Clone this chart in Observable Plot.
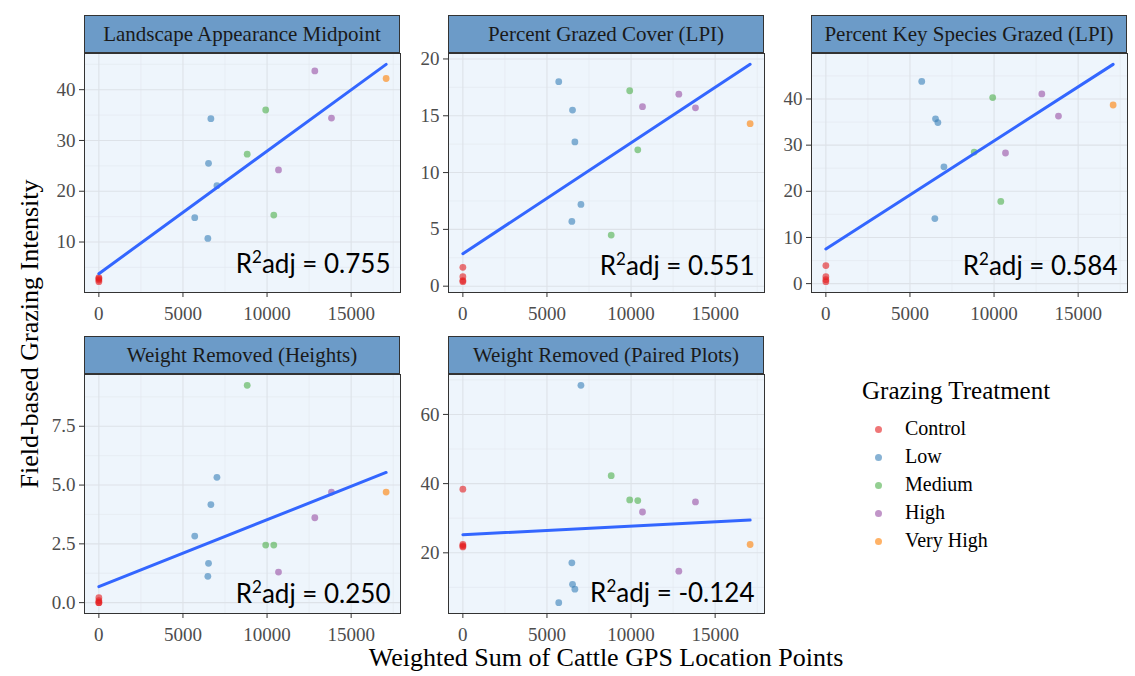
<!DOCTYPE html>
<html>
<head>
<meta charset="utf-8">
<script src="https://cdn.jsdelivr.net/npm/d3@7"></script>
<script src="https://cdn.jsdelivr.net/npm/@observablehq/plot@0.6"></script>
<style>
  body { margin: 0; background: #fff; }
  #fig { position: relative; width: 1135px; height: 676px; overflow: hidden;
         font-family: "Liberation Serif", "Times New Roman", serif; color: #000; }
  .strip { position: absolute; box-sizing: border-box; background: #6C9BC8; border: 1px solid #333;
           display: flex; align-items: center; justify-content: center; font-size: 21px; color: #1a1a1a;
           white-space: nowrap; }
  .panel { position: absolute; }
  .abs { position: absolute; line-height: 1; white-space: nowrap; }
  .key { position: absolute; width: 7px; height: 7px; border-radius: 50%; opacity: 0.6; }
</style>
</head>
<body>
<div id="fig"></div>
<script>
// Grazing treatments and their point colours
const treatments = ["Control", "Low", "Medium", "High", "Very High"];
const treatmentColors = ["#E41A1C", "#377EB8", "#4DAF4A", "#984EA3", "#FF7F00"];

// One entry per pasture: 4 control, 5 low, 3 medium, 3 high, 1 very high
const siteTreatment = ["Control", "Control", "Control", "Control",
  "Low", "Low", "Low", "Low", "Low",
  "Medium", "Medium", "Medium",
  "High", "High", "High",
  "Very High"];
const gpsPoints = [0, 0, 0, 0, 5700, 6480, 6520, 6660, 7020, 8820, 9920, 10400, 10680, 12840, 13830, 17080];

// Field-based grazing intensity metrics, same site order
const landscapeMidpoint = [2.2, 2.5, 2.8, 3.0, 14.8, 10.7, 25.5, 34.3, 21.1, 27.3, 36.0, 15.3, 24.2, 43.7, 34.4, 42.2];
const grazedCover      = [1.66, 0.84, 0.49, 0.40, 18.0, 5.7, 15.5, 12.7, 7.2, 4.5, 17.2, 12.0, 15.8, 16.9, 15.7, 14.3];
const keySpeciesGrazed = [3.9, 1.5, 0.86, 0.43, 43.8, 14.1, 35.7, 34.9, 25.3, 28.5, 40.3, 17.8, 28.3, 41.1, 36.3, 38.7];
const weightHeights    = [0.21, 0.08, 0.0, 0.0, 2.83, 1.12, 1.67, 4.17, 5.33, 9.24, 2.45, 2.45, 1.30, 3.61, 4.70, 4.70];
const weightPaired     = [38.4, 22.4, 21.7, 22.0, 5.6, 17.1, 10.9, 9.5, 68.4, 42.3, 35.3, 35.1, 31.8, 14.7, 34.7, 22.4];

const metricTitles = ["Landscape Appearance Midpoint", "Percent Grazed Cover (LPI)", "Percent Key Species Grazed (LPI)",
  "Weight Removed (Heights)", "Weight Removed (Paired Plots)"];
const metricValues = [landscapeMidpoint, grazedCover, keySpeciesGrazed, weightHeights, weightPaired];
const r2adj = ["0.755", "0.551", "0.584", "0.250", "-0.124"];

// Axis tick labels
const xTicks = [0, 5000, 10000, 15000];
const yTicks = [[10, 20, 30, 40], [0, 5, 10, 15, 20], [0, 10, 20, 30, 40], [0, 2.5, 5, 7.5], [20, 40, 60]];
const yTickFormats = [d3.format("d"), d3.format("d"), d3.format("d"), d3.format(".1f"), d3.format("d")];

// ---- layout ----
const fig = document.getElementById("fig");
const colLeft = [84, 448, 811];
const rowTop = [15, 336];
const panelW = 316, panelH = 239, stripH = 38;
const mL = 50, mR = 4, mT = 1, mB = 34;
const labelLift = [20, 18, 18, 11, 12];

// least-squares fit, used to size the y range so the fitted line stays inside
function fit(xs, ys) {
  const mx = d3.mean(xs), my = d3.mean(ys);
  let sxy = 0, sxx = 0;
  xs.forEach((x, i) => { sxy += (x - mx) * (ys[i] - my); sxx += (x - mx) ** 2; });
  const b = sxy / sxx;
  return x => my + b * (x - mx);
}
function expand([a, b]) { const p = (b - a) * 0.05; return [a - p, b + p]; }
function minorTicks(ticks, domain) {
  const s = ticks[1] - ticks[0];
  const out = [];
  for (let t = ticks[0] - s / 2; t <= domain[1]; t += s) if (t >= domain[0]) out.push(t);
  return out;
}

const xExt = d3.extent(gpsPoints);
const xDomain = expand(xExt);

metricValues.forEach((vals, k) => {
  const col = k % 3, row = Math.floor(k / 3);
  const data = vals.map((v, i) => ({gps: gpsPoints[i], value: v, treatment: siteTreatment[i]}));
  const f = fit(gpsPoints, vals);
  const yDomain = expand(d3.extent([...vals, f(xExt[0]), f(xExt[1])]));

  const strip = document.createElement("div");
  strip.className = "strip";
  Object.assign(strip.style, {left: colLeft[col] + "px", top: rowTop[row] + "px", width: panelW + "px", height: stripH + "px"});
  strip.textContent = metricTitles[k];
  fig.appendChild(strip);

  const chart = Plot.plot({
    width: panelW + mL + mR,
    height: panelH + mT + mB,
    marginLeft: mL, marginRight: mR, marginTop: mT, marginBottom: mB,
    style: {background: "transparent", fontFamily: "'Liberation Serif', 'Times New Roman', serif", fontSize: "19px", overflow: "visible"},
    x: {domain: xDomain, axis: null},
    y: {domain: yDomain, axis: null},
    color: {domain: treatments, range: treatmentColors},
    marks: [
      Plot.frame({fill: "#EEF5FC"}),
      Plot.gridX(minorTicks(xTicks, xDomain), {stroke: "#E3E8EE", strokeOpacity: 1, strokeWidth: 0.6}),
      Plot.gridY(minorTicks(yTicks[k], yDomain), {stroke: "#E3E8EE", strokeOpacity: 1, strokeWidth: 0.6}),
      Plot.gridX(xTicks, {stroke: "#DDE2E8", strokeOpacity: 1, strokeWidth: 1.1}),
      Plot.gridY(yTicks[k], {stroke: "#DDE2E8", strokeOpacity: 1, strokeWidth: 1.1}),
      Plot.dot(data, {x: "gps", y: "value", fill: "treatment", r: 3.4, fillOpacity: 0.6}),
      Plot.linearRegressionY(data, {x: "gps", y: "value", stroke: "#3366FF", strokeWidth: 3, ci: 0}),
      Plot.text([`R2adj = ${r2adj[k]}`], {frameAnchor: "bottom-right", textAnchor: "end", lineAnchor: "middle",
        dx: -10, dy: -(labelLift[k] + 8), fontSize: 26, fontFamily: "Lato, 'Open Sans', sans-serif", fill: "#000",
        className: "r2label"}),
      Plot.frame({stroke: "#333", strokeWidth: 1}),
      Plot.axisX(xTicks, {tickSize: 5, tickPadding: 9, stroke: "#333", fill: "#4d4d4d", tickFormat: d3.format("d"), label: null}),
      Plot.axisY(yTicks[k], {tickSize: 5, tickPadding: 4, stroke: "#333", fill: "#4d4d4d", tickFormat: yTickFormats[k], label: null})
    ]
  });

  // typeset the "2" of R2adj as a superscript
  chart.querySelectorAll(".r2label text").forEach(t => {
    const rest = t.textContent.slice(2);
    t.textContent = "";
    const ns = "http://www.w3.org/2000/svg";
    const a = document.createElementNS(ns, "tspan"); a.textContent = "R";
    const sup = document.createElementNS(ns, "tspan"); sup.textContent = "2";
    sup.setAttribute("font-size", "17"); sup.setAttribute("dy", "-10");
    const b = document.createElementNS(ns, "tspan"); b.textContent = rest; b.setAttribute("dy", "10");
    t.append(a, sup, b);
  });

  chart.classList.add("panel");
  chart.style.left = (colLeft[col] - mL) + "px";
  chart.style.top = (rowTop[row] + stripH - mT) + "px";
  fig.appendChild(chart);
});

// shared axis titles
const xTitle = document.createElement("div");
xTitle.className = "abs";
xTitle.textContent = "Weighted Sum of Cattle GPS Location Points";
Object.assign(xTitle.style, {fontSize: "26px", left: "606px", top: "645px", transform: "translateX(-50%)"});
fig.appendChild(xTitle);

const yTitle = document.createElement("div");
yTitle.className = "abs";
yTitle.textContent = "Field-based Grazing Intensity";
Object.assign(yTitle.style, {fontSize: "26px", left: "30px", top: "334px", transform: "translate(-50%, -50%) rotate(-90deg)"});
fig.appendChild(yTitle);

// legend
const legTitle = document.createElement("div");
legTitle.className = "abs";
legTitle.textContent = "Grazing Treatment";
Object.assign(legTitle.style, {fontSize: "25px", left: "862px", top: "378px"});
fig.appendChild(legTitle);

treatments.forEach((t, i) => {
  const cy = 429 + i * 28;
  const dot = document.createElement("div");
  dot.className = "key";
  Object.assign(dot.style, {left: (878 - 3.5) + "px", top: (cy - 3.5) + "px", background: treatmentColors[i]});
  fig.appendChild(dot);
  const lab = document.createElement("div");
  lab.className = "abs";
  lab.textContent = t;
  Object.assign(lab.style, {fontSize: "20px", left: "905px", top: (cy + 7 - 17.8) + "px"});
  fig.appendChild(lab);
});
</script>
</body>
</html>
